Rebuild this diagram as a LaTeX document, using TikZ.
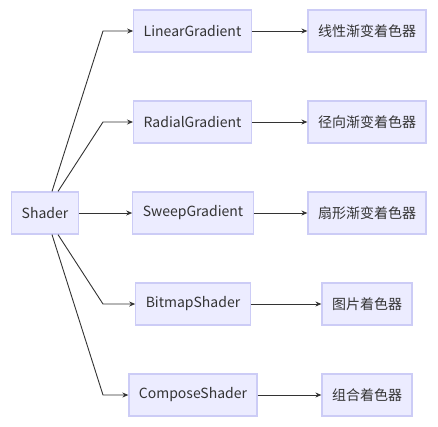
\documentclass[tikz,border=0pt]{standalone}
\usepackage{fontspec}
\setmainfont{Noto Sans CJK SC}
\usepackage{tikz}
\usetikzlibrary{positioning,arrows.meta,calc}
\definecolor{shFill}{HTML}{ECECFF}
\definecolor{shDraw}{HTML}{CCCCF6}
\definecolor{shText}{HTML}{333333}
\definecolor{shLine}{HTML}{333333}
\tikzset{
    shBox/.style={
        rectangle,
        draw=shDraw,
        fill=shFill,
        line width=1.2pt,
        minimum height=42pt,
        inner xsep=10pt,
        text=shText,
        font=\fontsize{14}{16}\selectfont
    },
    shArrow/.style={-{Stealth[length=6pt,width=5pt]}, line width=0.9pt, draw=shLine}
}
\begin{document}
\begin{tikzpicture}[x=1pt, y=-1pt]
\useasboundingbox (0,0) rectangle (438,426);
% class column
\node[shBox] (shader) at (45,213) {Shader};
\node[shBox] (linear) at (192.5,31) {LinearGradient};
\node[shBox] (radial) at (192.5,122) {RadialGradient};
\node[shBox] (sweep) at (193,213) {SweepGradient};
\node[shBox] (bitmap) at (193,304) {BitmapShader};
\node[shBox] (compose) at (193,395) {ComposeShader};
% meaning column
\node[shBox] (linearCn) at (367,31) {线性渐变着色器};
\node[shBox] (radialCn) at (367,122) {径向渐变着色器};
\node[shBox] (sweepCn) at (367,213) {扇形渐变着色器};
\node[shBox] (bitmapCn) at (367,304) {图片着色器};
\node[shBox] (composeCn) at (367,395) {组合着色器};

\coordinate (bend) at (103,0);
\draw[shArrow] ([xshift=7pt]shader.north) -- (linear.west -| bend) -- (linear.west);
\draw[shArrow] ([xshift=13pt]shader.north) -- (radial.west -| bend) -- (radial.west);
\draw[shArrow] (shader) -- (sweep);
\draw[shArrow] ([xshift=13pt]shader.south) -- (bitmap.west -| bend) -- (bitmap.west);
\draw[shArrow] ([xshift=7pt]shader.south) -- (compose.west -| bend) -- (compose.west);

\draw[shArrow] (linear) -- (linearCn);
\draw[shArrow] (radial) -- (radialCn);
\draw[shArrow] (sweep) -- (sweepCn);
\draw[shArrow] (bitmap) -- (bitmapCn);
\draw[shArrow] (compose) -- (composeCn);
\end{tikzpicture}
\end{document}
